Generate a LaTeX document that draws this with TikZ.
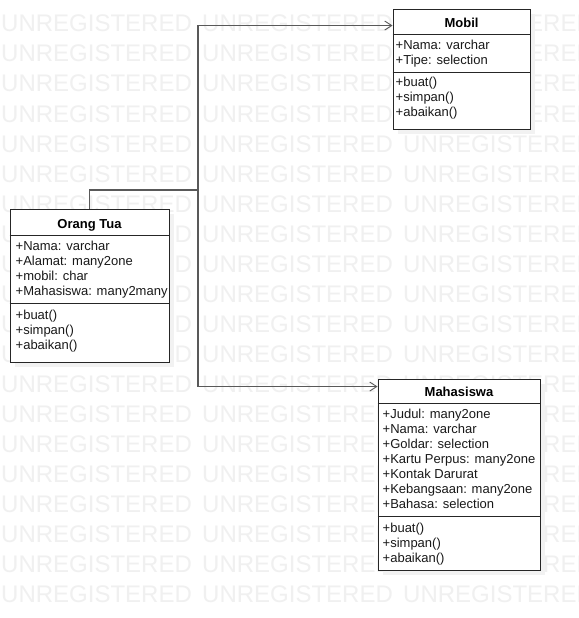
\documentclass[tikz,border=0pt]{standalone}
\usepackage{fontspec}
\setmainfont{Liberation Sans}
\usetikzlibrary{arrows.meta}
\begin{document}
\begin{tikzpicture}[x=1pt,y=-1pt,
  wm/.style={anchor=base west, inner sep=0pt, text=black!6, font=\fontsize{24}{24}\selectfont},
  classbox/.style={draw=black!85, fill=white, line width=0.9pt, inner sep=0pt, minimum width=#1},
  shadowbox/.style={fill=black!5, draw=none},
  ttl/.style={anchor=base, inner sep=0pt, font=\fontsize{13}{13}\selectfont\bfseries},
  item/.style={anchor=base west, inner sep=0pt, font=\fontsize{13}{13}\selectfont, text=black!90},
  sep/.style={draw=black!85, line width=0.9pt},
  conn/.style={draw=black!65, line width=1.3pt},
  arr/.style={conn, -{Straight Barb[length=7pt,width=9pt,line width=0.9pt]}}
]
\useasboundingbox (0,0) rectangle (578,618);
\fill[white] (0,0) rectangle (578,618);
% watermark
\foreach \r in {0,...,19}{
  \foreach \c in {0,1,2}{
    \node[wm] (w\r-\c) at (1+201*\c, 32+30*\r) {UNREGISTERED};
  }
}
% shadows
\fill[shadowbox] (15,214) rectangle (174,367);
\fill[shadowbox] (398,14) rectangle (535,134);
\fill[shadowbox] (383,384) rectangle (545,575);
% class boxes
\node[classbox=159pt, minimum height=153pt] (ot) at (89.5,285.5) {};
\node[classbox=137pt, minimum height=120pt] (mobil) at (461.5,69) {};
\node[classbox=162pt, minimum height=191pt] (mhs) at (459,474.5) {};
% separators
\draw[sep] (ot.west |- 0,235) -- (ot.east |- 0,235);
\draw[sep] (ot.west |- 0,303) -- (ot.east |- 0,303);
\draw[sep] (mobil.west |- 0,34) -- (mobil.east |- 0,34);
\draw[sep] (mobil.west |- 0,72) -- (mobil.east |- 0,72);
\draw[sep] (mhs.west |- 0,403) -- (mhs.east |- 0,403);
\draw[sep] (mhs.west |- 0,516) -- (mhs.east |- 0,516);
% Orang Tua
\node[ttl] (ot-t) at (89.5,228) {Orang Tua};
\node[item] (ot-a1) at (15.5,250.5) {+Nama: varchar};
\node[item] (ot-a2) at (15.5,265.5) {+Alamat: many2one};
\node[item] (ot-a3) at (15.5,280.5) {+mobil: char};
\node[item] (ot-a4) at (15.5,295.5) {+Mahasiswa: many2many};
\node[item] (ot-m1) at (15.5,319.5) {+buat()};
\node[item] (ot-m2) at (15.5,334.5) {+simpan()};
\node[item] (ot-m3) at (15.5,349.5) {+abaikan()};
% Mobil
\node[ttl] (mb-t) at (461.5,28) {Mobil};
\node[item] (mb-a1) at (395.5,49.5) {+Nama: varchar};
\node[item] (mb-a2) at (395.5,64.5) {+Tipe: selection};
\node[item] (mb-m1) at (395.5,86.5) {+buat()};
\node[item] (mb-m2) at (395.5,101.5) {+simpan()};
\node[item] (mb-m3) at (395.5,116.5) {+abaikan()};
% Mahasiswa
\node[ttl] (mh-t) at (459,396.5) {Mahasiswa};
\node[item] (mh-a1) at (382.5,418) {+Judul: many2one};
\node[item] (mh-a2) at (382.5,433) {+Nama: varchar};
\node[item] (mh-a3) at (382.5,448) {+Goldar: selection};
\node[item] (mh-a4) at (382.5,463) {+Kartu Perpus: many2one};
\node[item] (mh-a5) at (382.5,478) {+Kontak Darurat};
\node[item] (mh-a6) at (382.5,493) {+Kebangsaan: many2one};
\node[item] (mh-a7) at (382.5,508) {+Bahasa: selection};
\node[item] (mh-m1) at (382.5,532) {+buat()};
\node[item] (mh-m2) at (382.5,547) {+simpan()};
\node[item] (mh-m3) at (382.5,562) {+abaikan()};
% connectors
\coordinate (j1) at (198,190);
\draw[conn] (ot.north) |- (j1);
\draw[arr] (j1) |- ([yshift=-17pt]mobil.north west);
\draw[arr] (j1) |- ([yshift=-8pt]mhs.north west);
\end{tikzpicture}
\end{document}
